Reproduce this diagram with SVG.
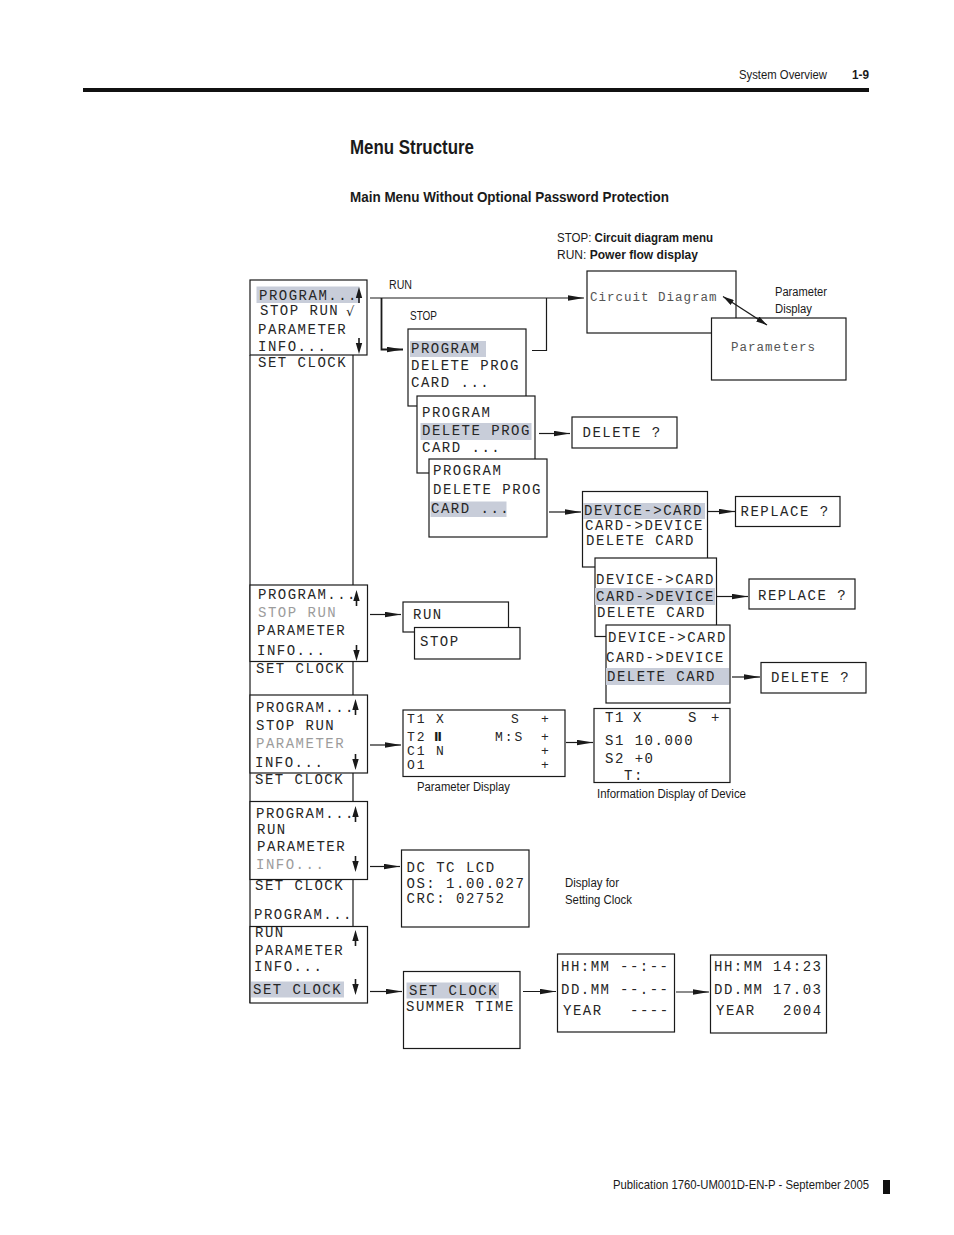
<svg xmlns="http://www.w3.org/2000/svg" width="954" height="1235" viewBox="0 0 954 1235">
<style>
.m{font-family:"Liberation Mono","DejaVu Sans Mono",monospace;font-size:14px;letter-spacing:1.5px;fill:#262626}
.g{fill:#9c9c9c}
.cd{font-size:12.5px;letter-spacing:1px;fill:#555}
.t{font-size:13px;letter-spacing:2px}
.s{font-family:"Liberation Sans Narrow","Liberation Sans",Arial,sans-serif;font-size:12px;fill:#1a1a1a}
.b{font-weight:bold}
.box{fill:#fff;stroke:#1a1a1a;stroke-width:1.2}
.hl{fill:#c8cdd9}
.ln{fill:none;stroke:#1a1a1a;stroke-width:1.2}
.ar{fill:none;stroke:#1a1a1a;stroke-width:1.2;marker-end:url(#ah)}
</style>
<defs>
<marker id="ah" viewBox="0 0 16 6" refX="16" refY="3" markerWidth="16" markerHeight="6" markerUnits="userSpaceOnUse" orient="auto"><path d="M0,0.3 L16,3 L0,5.7 Z" fill="#1a1a1a"/></marker>
<marker id="ah2" viewBox="0 0 11 6" refX="11" refY="3" markerWidth="11" markerHeight="6" markerUnits="userSpaceOnUse" orient="auto-start-reverse"><path d="M0,0 L11,3 L0,6 Z" fill="#1a1a1a"/></marker>
<path id="up" d="M0,0 L3.2,11 L-3.2,11 Z M-0.8,11 H0.8 V16 H-0.8 Z" fill="#1a1a1a"/>
<path id="dn" d="M0,0 L3.2,-11 L-3.2,-11 Z M-0.8,-11 H0.8 V-16 H-0.8 Z" fill="#1a1a1a"/>
</defs>
<rect width="954" height="1235" fill="#fff"/>

<g id="header">
<text class="s" x="739" y="79" style="font-size:13px" textLength="88" lengthAdjust="spacingAndGlyphs">System Overview</text>
<text class="s b" x="852" y="79" style="font-size:13px" textLength="17" lengthAdjust="spacingAndGlyphs">1-9</text>
<rect x="83" y="88" width="786" height="4" fill="#111"/>
<text class="s b" x="350" y="154" style="font-size:21px" textLength="124" lengthAdjust="spacingAndGlyphs">Menu Structure</text>
<text class="s b" x="350" y="202" style="font-size:14px" textLength="319" lengthAdjust="spacingAndGlyphs">Main Menu Without Optional Password Protection</text>
</g>

<g id="labels">
<text class="s" x="557" y="242" textLength="156" lengthAdjust="spacingAndGlyphs">STOP: <tspan class="b">Circuit diagram menu</tspan></text>
<text class="s" x="557" y="259" textLength="141" lengthAdjust="spacingAndGlyphs">RUN: <tspan class="b">Power flow display</tspan></text>
<text class="s" x="389" y="289" textLength="23" lengthAdjust="spacingAndGlyphs">RUN</text>
<text class="s" x="410" y="320" textLength="27" lengthAdjust="spacingAndGlyphs">STOP</text>
<text class="s" x="775" y="296" textLength="52" lengthAdjust="spacingAndGlyphs">Parameter</text>
<text class="s" x="775" y="313" textLength="37" lengthAdjust="spacingAndGlyphs">Display</text>
<text class="s" x="417" y="791" textLength="93" lengthAdjust="spacingAndGlyphs">Parameter Display</text>
<text class="s" x="597" y="798" textLength="149" lengthAdjust="spacingAndGlyphs">Information Display of Device</text>
<text class="s" x="565" y="887" textLength="54" lengthAdjust="spacingAndGlyphs">Display for</text>
<text class="s" x="565" y="904" textLength="67" lengthAdjust="spacingAndGlyphs">Setting Clock</text>
</g>

<g id="column">
<path class="ln" d="M250,355 V1003 M353,355 V585 M353,661 V695 M353,773 V801 M353,879 V926"/>
<text class="m" x="258" y="367">SET CLOCK</text>
<text class="m" x="256" y="673">SET CLOCK</text>
<text class="m" x="255" y="784">SET CLOCK</text>
<text class="m" x="255" y="890">SET CLOCK</text>
<text class="m" x="254" y="919">PROGRAM...</text>
</g>

<g id="menu1">
<rect class="box" x="250" y="280" width="117" height="75"/>
<rect class="hl" x="256.5" y="286.5" width="103" height="16.5"/>
<text class="m" x="259" y="299.5">PROGRAM...</text>
<text class="m" x="260" y="315">STOP RUN</text>
<text x="346" y="316" style="font-family:'DejaVu Sans',sans-serif;font-size:13px;fill:#1a1a1a">√</text>
<text class="m" x="258" y="334">PARAMETER</text>
<text class="m" x="258" y="351">INFO...</text>
<use href="#up" x="359" y="287"/>
<use href="#dn" x="359" y="354"/>
</g>

<g id="circuit">
<rect class="box" x="587" y="271" width="149" height="62"/>
<text class="m cd" x="590" y="301">Circuit Diagram</text>
</g>
<g id="parameters">
<rect class="box" x="711.5" y="318" width="134.5" height="62"/>
<text class="m cd" x="731" y="351">Parameters</text>
</g>

<g id="prog1">
<rect class="box" x="408" y="329" width="118" height="77"/>
<rect class="hl" x="410" y="341" width="76" height="16"/>
<text class="m" x="411" y="353">PROGRAM</text>
<text class="m" x="411" y="370">DELETE PROG</text>
<text class="m" x="411" y="387">CARD ...</text>
</g>
<g id="prog2">
<rect class="box" x="417" y="396" width="118" height="77"/>
<rect class="hl" x="420.5" y="423" width="111" height="17"/>
<text class="m" x="422" y="417">PROGRAM</text>
<text class="m" x="422" y="435">DELETE PROG</text>
<text class="m" x="422" y="452">CARD ...</text>
</g>
<g id="prog3">
<rect class="box" x="429" y="459" width="118" height="78"/>
<rect class="hl" x="430.5" y="501.5" width="76" height="15.5"/>
<text class="m" x="433" y="475">PROGRAM</text>
<text class="m" x="433" y="494">DELETE PROG</text>
<text class="m" x="431" y="512.5">CARD ...</text>
</g>
<g id="delete1">
<rect class="box" x="572" y="417" width="105" height="31"/>
<text class="m" x="582.5" y="437">DELETE ?</text>
</g>

<g id="dev1">
<rect class="box" x="582.5" y="491.5" width="125" height="75.5"/>
<rect class="hl" x="583" y="503" width="122" height="16"/>
<text class="m" x="584" y="515">DEVICE-&gt;CARD</text>
<text class="m" x="585" y="530">CARD-&gt;DEVICE</text>
<text class="m" x="586" y="545">DELETE CARD</text>
</g>
<g id="dev2">
<rect class="box" x="595" y="558" width="121.5" height="78.5"/>
<rect class="hl" x="595" y="588" width="120" height="17"/>
<text class="m" x="596" y="583.5">DEVICE-&gt;CARD</text>
<text class="m" x="596" y="601">CARD-&gt;DEVICE</text>
<text class="m" x="597" y="617">DELETE CARD</text>
</g>
<g id="dev3">
<rect class="box" x="606" y="625" width="124" height="78"/>
<rect class="hl" x="606" y="668" width="123" height="17"/>
<text class="m" x="608" y="642">DEVICE-&gt;CARD</text>
<text class="m" x="606" y="662">CARD-&gt;DEVICE</text>
<text class="m" x="607" y="680.5">DELETE CARD</text>
</g>
<g id="replace1">
<rect class="box" x="735.5" y="496.5" width="104.5" height="30"/>
<text class="m" x="740.5" y="516">REPLACE ?</text>
</g>
<g id="replace2">
<rect class="box" x="749" y="579" width="106" height="30"/>
<text class="m" x="758" y="600">REPLACE ?</text>
</g>
<g id="delete2">
<rect class="box" x="761" y="662.5" width="105" height="30.5"/>
<text class="m" x="771" y="682">DELETE ?</text>
</g>

<g id="menu2">
<rect class="box" x="250" y="585" width="117.5" height="76.5"/>
<text class="m" x="258" y="598.5">PROGRAM...</text>
<text class="m g" x="258" y="616.5">STOP RUN</text>
<text class="m" x="257" y="635">PARAMETER</text>
<text class="m" x="257" y="655">INFO...</text>
<use href="#up" x="356.5" y="590"/>
<use href="#dn" x="356.5" y="661"/>
</g>
<g id="runbox">
<rect class="box" x="403" y="602" width="105.5" height="30"/>
<text class="m" x="413" y="618.5">RUN</text>
</g>
<g id="stopbox">
<rect class="box" x="414.5" y="627.5" width="105.5" height="31.5"/>
<text class="m" x="420" y="646">STOP</text>
</g>

<g id="menu3">
<rect class="box" x="250" y="695" width="117.5" height="78"/>
<text class="m" x="256" y="712">PROGRAM...</text>
<text class="m" x="256" y="730">STOP RUN</text>
<text class="m g" x="256" y="748">PARAMETER</text>
<text class="m" x="255" y="767">INFO...</text>
<use href="#up" x="355.5" y="699"/>
<use href="#dn" x="355.5" y="770"/>
</g>
<g id="paramdisplay">
<rect class="box" x="403" y="710" width="162" height="66.5"/>
<text class="m t" x="407" y="723">T1</text><text class="m t" x="436" y="723">X</text><text class="m t" x="511" y="723">S</text><text class="m t" x="541" y="723">+</text>
<text class="m t" x="407" y="740.5">T2</text><text x="434" y="740.5" style="font-family:'DejaVu Sans',sans-serif;font-weight:bold;font-size:12px;fill:#1a1a1a">Ⅱ</text><text class="m t" x="495" y="740.5">M:S</text><text class="m t" x="541" y="740.5">+</text>
<text class="m t" x="407" y="755">C1</text><text class="m t" x="436" y="755">N</text><text class="m t" x="541" y="755">+</text>
<text class="m t" x="407" y="769">O1</text><text class="m t" x="541" y="769">+</text>
</g>
<g id="infodisplay">
<rect class="box" x="594" y="708.5" width="136" height="74"/>
<text class="m" x="605" y="722">T1</text><text class="m" x="633" y="722">X</text><text class="m" x="688" y="722">S</text><text class="m" x="711" y="722">+</text>
<text class="m" x="605" y="745">S1 10.000</text>
<text class="m" x="605" y="763">S2 +0</text>
<text class="m" x="624" y="780">T:</text>
</g>

<g id="menu4">
<rect class="box" x="250" y="801.5" width="117.5" height="78"/>
<text class="m" x="256" y="817.5">PROGRAM...</text>
<text class="m" x="257" y="833.5">RUN</text>
<text class="m" x="257" y="851">PARAMETER</text>
<text class="m g" x="256" y="868.5">INFO...</text>
<use href="#up" x="355.5" y="806"/>
<use href="#dn" x="355.5" y="872"/>
</g>
<g id="dcbox">
<rect class="box" x="401.5" y="850" width="127.5" height="77"/>
<text class="m" x="406.5" y="872">DC TC LCD</text>
<text class="m" x="406.5" y="887.5">OS: 1.00.027</text>
<text class="m" x="406.5" y="903">CRC: 02752</text>
</g>

<g id="menu5">
<rect class="box" x="250" y="926.5" width="117.5" height="76.5"/>
<text class="m" x="255" y="936.5">RUN</text>
<text class="m" x="255" y="954.5">PARAMETER</text>
<text class="m" x="254" y="971">INFO...</text>
<rect class="hl" x="251" y="981.5" width="93" height="16"/>
<text class="m" x="253" y="993.5">SET CLOCK</text>
<use href="#up" x="355.5" y="930"/>
<use href="#dn" x="355.5" y="995"/>
</g>
<g id="setclock">
<rect class="box" x="403.5" y="971.5" width="116.5" height="77"/>
<rect class="hl" x="406.5" y="982.5" width="92.5" height="16"/>
<text class="m" x="409" y="995">SET CLOCK</text>
<text class="m" x="406" y="1011">SUMMER TIME</text>
</g>
<g id="clock1">
<rect class="box" x="557.5" y="954" width="117" height="78"/>
<text class="m" x="561" y="971">HH:MM</text><text class="m" x="620" y="971">--:--</text>
<text class="m" x="561" y="994">DD.MM</text><text class="m" x="620" y="994">--.--</text>
<text class="m" x="563" y="1015">YEAR</text><text class="m" x="630" y="1015">----</text>
</g>
<g id="clock2">
<rect class="box" x="710.5" y="955" width="116" height="78"/>
<text class="m" x="714" y="971">HH:MM</text><text class="m" x="773" y="971">14:23</text>
<text class="m" x="714" y="994">DD.MM</text><text class="m" x="773" y="994">17.03</text>
<text class="m" x="716" y="1015">YEAR</text><text class="m" x="783" y="1015">2004</text>
</g>

<g id="connectors">
<path class="ar" d="M370,298 H584"/>
<path class="ar" d="M381.5,298 V349.5 H403" style="stroke-width:1.8"/>
<path class="ln" d="M532,350.5 H546.5 V298"/>
<path class="ln" d="M723,296.5 L767,325" style="marker-start:url(#ah2);marker-end:url(#ah2)"/>
<path class="ar" d="M539,433.5 H570"/>
<path class="ar" d="M549,512 H581"/>
<path class="ar" d="M708,511.5 H735"/>
<path class="ar" d="M717,596.5 H748"/>
<path class="ar" d="M732,677 H760"/>
<path class="ar" d="M370,614.5 H401"/>
<path class="ar" d="M370,745 H401"/>
<path class="ar" d="M566,742.5 H593"/>
<path class="ar" d="M370,866.5 H400"/>
<path class="ar" d="M370,991.5 H402"/>
<path class="ar" d="M523,991.5 H556"/>
<path class="ar" d="M676,992 H709"/>
</g>

<g id="footer">
<text class="s" x="613" y="1189" style="font-size:13px" textLength="256" lengthAdjust="spacingAndGlyphs">Publication 1760-UM001D-EN-P - September 2005</text>
<rect x="883" y="1180" width="7" height="14" fill="#111"/>
</g>
</svg>
